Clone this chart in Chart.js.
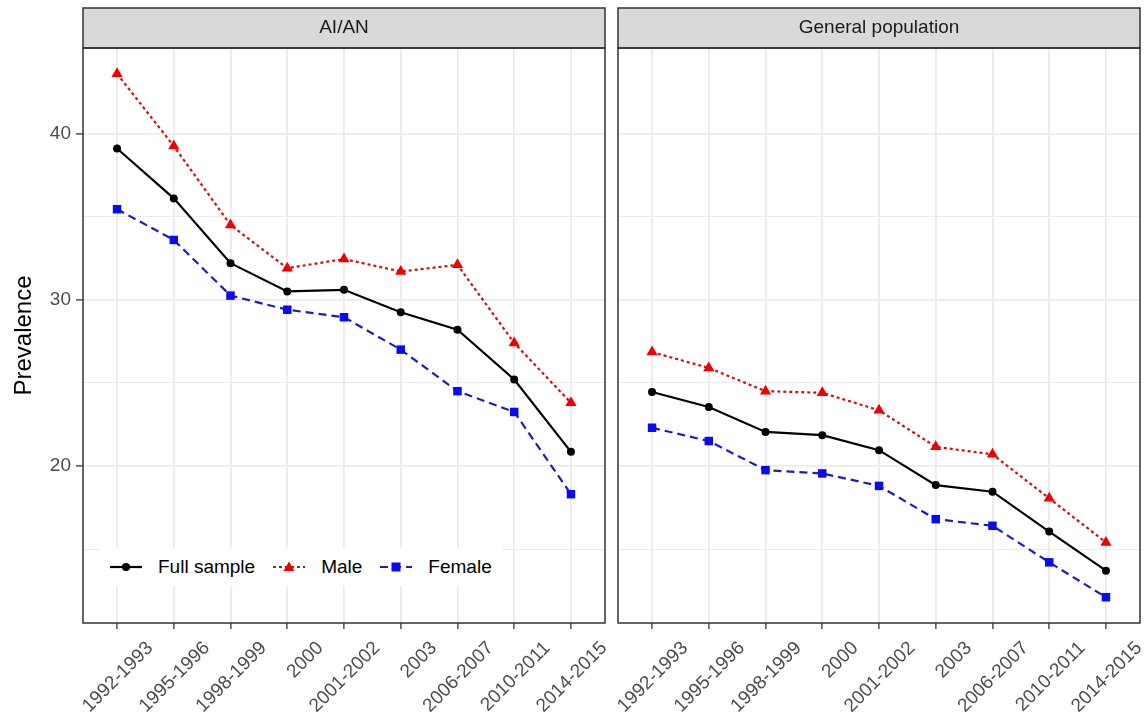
<!DOCTYPE html>
<html lang="en">
<head>
  <meta charset="UTF-8" />
  <meta name="viewport" content="width=device-width, initial-scale=1.0"/>
  <title>Prevalence by survey period: AI/AN vs General population</title>
  <script src="https://cdn.jsdelivr.net/npm/chart.js"></script>
  <style>
    body {
      margin: 0;
      background: #fff;
      font-family: "Liberation Sans", Arial, sans-serif;
    }
    #wrap {
      position: relative;
      width: 1148px;
      height: 718px;
    }
    #leftChart { position: absolute; left: 0; top: 0; }
    #rightChart { position: absolute; left: 606px; top: 0; }
    #legend {
      position: absolute;
      left: 100px;
      top: 548px;
      height: 38px;
      background: #fff;
      display: flex;
      align-items: center;
      padding: 0 10px;
      font-size: 19px;
      color: #000;
    }
    .item { display: flex; align-items: center; margin-right: 18px; }
    .item:last-child { margin-right: 0; }
    .item svg { display: block; }
    .item span { margin-left: 16px; }
  </style>
</head>
<body>
  <div id="wrap">
    <canvas id="leftChart" width="606" height="718"></canvas>
    <canvas id="rightChart" width="542" height="718"></canvas>
    <div id="legend"></div>
  </div>

  <script>
    const years = ['1992-1993', '1995-1996', '1998-1999', '2000', '2001-2002', '2003', '2006-2007', '2010-2011', '2014-2015'];
    const panels = ['AI/AN', 'General population'];
    const seriesNames = ['Full sample', 'Male', 'Female'];

    // AI/AN
    const aianFull   = [39.1, 36.1, 32.2, 30.5, 30.6, 29.25, 28.2, 25.2, 20.85];
    const aianMale   = [43.6, 39.25, 34.5, 31.9, 32.45, 31.7, 32.1, 27.4, 23.8];
    const aianFemale = [35.45, 33.6, 30.25, 29.4, 28.95, 27.0, 24.5, 23.25, 18.3];

    // General population
    const genFull   = [24.45, 23.55, 22.05, 21.85, 20.95, 18.85, 18.45, 16.05, 13.7];
    const genMale   = [26.85, 25.9, 24.5, 24.4, 23.35, 21.15, 20.7, 18.05, 15.4];
    const genFemale = [22.3, 21.5, 19.75, 19.55, 18.8, 16.8, 16.4, 14.2, 12.1];

    const yMajor = [20, 30, 40];
    const yMinor = [15, 25, 35];

    const styles = [
      { line: '#000000', point: '#000000', dash: [], marker: 'circle', radius: 4 },
      { line: '#d01010', point: '#f00000', dash: [3, 3], marker: 'triangle', radius: 6.5 },
      { line: '#1c1cc0', point: '#0a0af0', dash: [8, 5], marker: 'rect', radius: 6 }
    ];

    const FONT = '"Liberation Sans", Arial, sans-serif';

    function makeDatasets(series) {
      return series.map((vals, k) => ({
        label: seriesNames[k],
        data: vals.map((v, i) => ({ x: i, y: v })),
        borderColor: styles[k].line,
        borderWidth: 2.2,
        borderDash: styles[k].dash,
        pointStyle: styles[k].marker,
        pointRadius: styles[k].radius,
        pointBackgroundColor: styles[k].point,
        pointBorderWidth: 0,
        tension: 0,
        fill: false
      }));
    }

    // strip on top of panel and panel border
    const facetPlugin = {
      id: 'facet',
      afterDraw(chart, args, opts) {
        const { ctx, chartArea: a } = chart;
        ctx.save();
        ctx.fillStyle = '#d9d9d9';
        ctx.fillRect(a.left, a.top - 40, a.right - a.left, 40);
        ctx.strokeStyle = '#333';
        ctx.lineWidth = 1.5;
        ctx.strokeRect(a.left, a.top - 40, a.right - a.left, 40);
        ctx.strokeRect(a.left, a.top, a.right - a.left, a.bottom - a.top);
        ctx.fillStyle = '#1a1a1a';
        ctx.font = '19px ' + FONT;
        ctx.textAlign = 'center';
        ctx.textBaseline = 'middle';
        ctx.fillText(opts.title, (a.left + a.right) / 2, a.top - 20);
        ctx.restore();
      }
    };

    function makeChart(id, title, series, showY) {
      return new Chart(document.getElementById(id), {
        type: 'line',
        data: { datasets: makeDatasets(series) },
        plugins: [facetPlugin],
        options: {
          responsive: false,
          animation: false,
          layout: { autoPadding: false, padding: { top: 48, left: 0, right: showY ? 1 : 8, bottom: 0 } },
          plugins: {
            legend: { display: false },
            tooltip: { enabled: false },
            facet: { title: title }
          },
          scales: {
            x: {
              type: 'linear',
              min: -0.6,
              max: 8.6,
              afterBuildTicks: s => { s.ticks = years.map((_, i) => ({ value: i })); },
              afterFit: s => { s.height = 95; s.paddingLeft = 0; s.paddingRight = 0; },
              border: { display: false },
              grid: {
                color: '#ebebeb',
                lineWidth: 1.8,
                tickColor: '#333',
                tickWidth: 1.3,
                tickLength: 6
              },
              ticks: {
                autoSkip: false,
                minRotation: 45,
                maxRotation: 45,
                labelOffset: 33,
                padding: 8,
                color: '#4d4d4d',
                font: { family: FONT, size: 19 },
                callback: v => years[v]
              }
            },
            y: {
              min: 10.55,
              max: 45.15,
              afterBuildTicks: s => {
                s.ticks = [...yMinor, ...yMajor].sort((a, b) => a - b).map(v => ({ value: v }));
              },
              afterFit: s => { s.width = showY ? 83 : 12; s.paddingTop = 0; s.paddingBottom = 0; },
              border: { display: false },
              grid: {
                color: '#ebebeb',
                lineWidth: c => (c.tick && yMinor.includes(c.tick.value)) ? 1 : 1.8,
                drawTicks: showY,
                tickColor: c => (c.tick && yMinor.includes(c.tick.value)) ? 'rgba(0,0,0,0)' : '#333',
                tickWidth: 1.3,
                tickLength: 7
              },
              ticks: {
                display: showY,
                padding: 5,
                color: '#4d4d4d',
                font: { family: FONT, size: 19 },
                callback: v => yMajor.includes(v) ? String(v) : ''
              },
              title: {
                display: showY,
                text: 'Prevalence',
                color: '#000',
                font: { family: FONT, size: 24 },
                padding: { top: 10, bottom: 0 }
              }
            }
          }
        }
      });
    }

    makeChart('leftChart', panels[0], [aianFull, aianMale, aianFemale], true);
    makeChart('rightChart', panels[1], [genFull, genMale, genFemale], false);

    // legend: line sample with marker, then label
    function markerSvg(st) {
      const c = 16, y = 10;
      if (st.marker === 'circle') return `<circle cx="${c}" cy="${y}" r="4" fill="${st.point}"/>`;
      if (st.marker === 'triangle') return `<polygon points="${c},${y - 5.5} ${c + 5.5},${y + 4} ${c - 5.5},${y + 4}" fill="${st.point}"/>`;
      return `<rect x="${c - 4.5}" y="${y - 4.5}" width="9" height="9" fill="${st.point}"/>`;
    }
    const legend = document.getElementById('legend');
    seriesNames.forEach((name, k) => {
      const st = styles[k];
      const item = document.createElement('div');
      item.className = 'item';
      item.innerHTML =
        `<svg width="32" height="20"><line x1="0" y1="10" x2="32" y2="10" stroke="${st.line}" stroke-width="2.2"` +
        (st.dash.length ? ` stroke-dasharray="${st.dash.join(' ')}"` : '') + `/>` + markerSvg(st) + `</svg>` +
        `<span>${name}</span>`;
      legend.appendChild(item);
    });
  </script>
</body>
</html>
